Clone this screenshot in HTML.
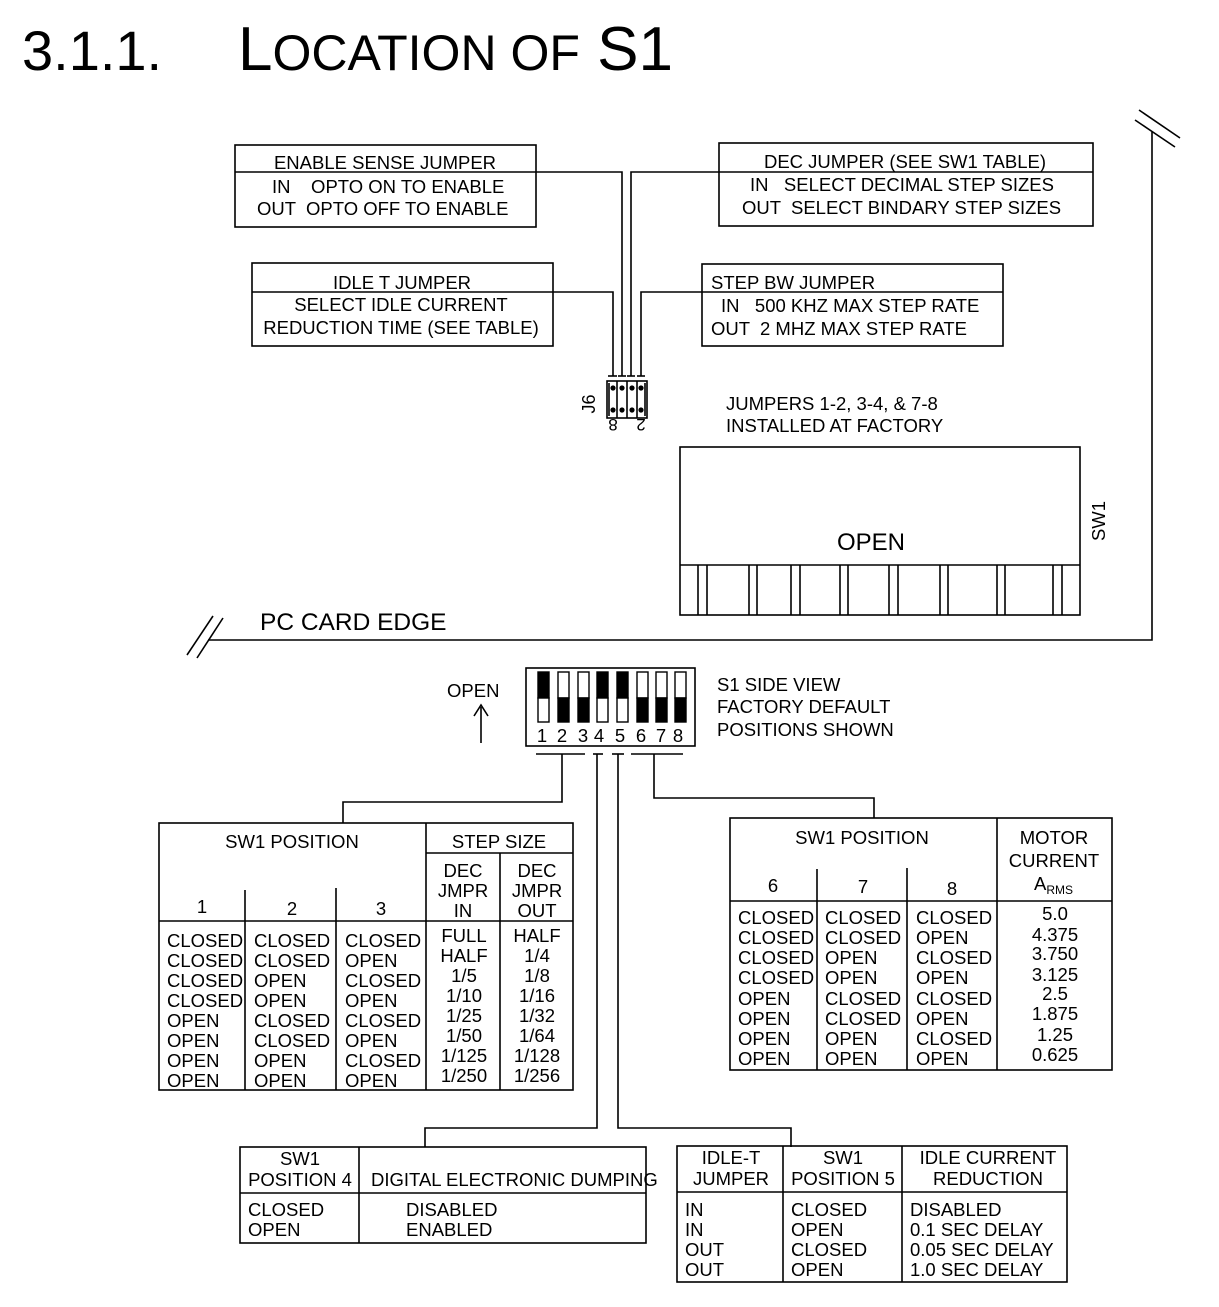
<!DOCTYPE html>
<html><head><meta charset="utf-8"><style>
html,body{margin:0;padding:0;background:#fff}
svg{display:block}
text{font-family:"Liberation Sans",Arial,sans-serif;font-size:18.5px;fill:#000}
.m{text-anchor:middle}
</style></head><body>
<svg width="1219" height="1307" viewBox="0 0 1219 1307" xmlns="http://www.w3.org/2000/svg">
<g fill="none" stroke="#000" stroke-width="1.6">
<rect x="235" y="145" width="301" height="82"/><line x1="235" y1="172" x2="536" y2="172"/>
<rect x="719" y="143" width="374" height="83"/><line x1="719" y1="172" x2="1093" y2="172"/>
<rect x="252" y="263" width="301" height="83"/><line x1="252" y1="292" x2="553" y2="292"/>
<rect x="702" y="264" width="301" height="82"/><line x1="702" y1="292" x2="1003" y2="292"/>
<polyline points="553,292 613,292 613,376"/>
<polyline points="536,172 622,172 622,376"/>
<polyline points="719,172 631,172 631,376"/>
<polyline points="702,292 641,292 641,376"/>
<line x1="608" y1="376" x2="617" y2="376"/><line x1="618" y1="376" x2="626" y2="376"/>
<line x1="627" y1="376" x2="635" y2="376"/><line x1="637" y1="376" x2="645" y2="376"/>
<rect x="607" y="381" width="40" height="37"/>
<line x1="609" y1="383" x2="609" y2="416"/>
<line x1="617" y1="381" x2="617" y2="418"/><line x1="627" y1="381" x2="627" y2="418"/><line x1="637" y1="381" x2="637" y2="418"/>
<line x1="645" y1="383" x2="645" y2="416"/>
<rect x="680" y="447" width="400" height="168"/>
<line x1="680" y1="565" x2="1080" y2="565"/>
<g>
<line x1="698" y1="565" x2="698" y2="615"/><line x1="707" y1="565" x2="707" y2="615"/>
<line x1="749" y1="565" x2="749" y2="615"/><line x1="757" y1="565" x2="757" y2="615"/>
<line x1="791" y1="565" x2="791" y2="615"/><line x1="800" y1="565" x2="800" y2="615"/>
<line x1="840" y1="565" x2="840" y2="615"/><line x1="848" y1="565" x2="848" y2="615"/>
<line x1="889" y1="565" x2="889" y2="615"/><line x1="898" y1="565" x2="898" y2="615"/>
<line x1="940" y1="565" x2="940" y2="615"/><line x1="948" y1="565" x2="948" y2="615"/>
<line x1="997" y1="565" x2="997" y2="615"/><line x1="1005" y1="565" x2="1005" y2="615"/>
<line x1="1053" y1="565" x2="1053" y2="615"/><line x1="1062" y1="565" x2="1062" y2="615"/>
</g>
<polyline points="208,640 1152,640 1152,132"/>
<line x1="1139" y1="110" x2="1180" y2="138"/><line x1="1135" y1="120" x2="1175" y2="147"/>
<line x1="213" y1="616" x2="187" y2="655"/><line x1="223" y1="618" x2="197" y2="658"/>
<line x1="481" y1="707" x2="481" y2="743"/>
<polyline points="474,716 481,705 488,716"/>
<rect x="526" y="668" width="169" height="78"/>
<line x1="536" y1="754" x2="585" y2="754"/><line x1="593" y1="754" x2="603" y2="754"/>
<line x1="612" y1="754" x2="624" y2="754"/><line x1="631" y1="754" x2="683" y2="754"/>
<polyline points="562,754 562,802 343,802 343,823"/>
<polyline points="597,754 597,1128 425,1128 425,1147"/>
<polyline points="618,754 618,1128 791,1128 791,1147"/>
<polyline points="654,754 654,798 874,798 874,818"/>
<rect x="159" y="823" width="414" height="267"/>
<line x1="426" y1="823" x2="426" y2="1090"/>
<line x1="426" y1="853" x2="573" y2="853"/>
<line x1="500" y1="853" x2="500" y2="1090"/>
<line x1="159" y1="921" x2="573" y2="921"/>
<line x1="245" y1="890" x2="245" y2="1090"/><line x1="336" y1="888" x2="336" y2="1090"/>
<rect x="730" y="818" width="382" height="252"/>
<line x1="997" y1="818" x2="997" y2="1070"/>
<line x1="730" y1="901" x2="1112" y2="901"/>
<line x1="817" y1="869" x2="817" y2="1070"/><line x1="907" y1="868" x2="907" y2="1070"/>
<rect x="240" y="1147" width="406" height="96"/>
<line x1="359" y1="1147" x2="359" y2="1243"/><line x1="240" y1="1193" x2="646" y2="1193"/>
<rect x="677" y="1146" width="390" height="136"/>
<line x1="783" y1="1146" x2="783" y2="1282"/><line x1="902" y1="1146" x2="902" y2="1282"/>
<line x1="677" y1="1192" x2="1067" y2="1192"/>
</g>
<g stroke="#000" stroke-width="1.4">
<rect x="538" y="672" width="11" height="26" fill="#000"/><rect x="538" y="698" width="11" height="24" fill="#fff"/>
<rect x="558" y="672" width="11" height="26" fill="#fff"/><rect x="558" y="698" width="11" height="24" fill="#000"/>
<rect x="578" y="672" width="11" height="26" fill="#fff"/><rect x="578" y="698" width="11" height="24" fill="#000"/>
<rect x="597" y="672" width="11" height="26" fill="#000"/><rect x="597" y="698" width="11" height="24" fill="#fff"/>
<rect x="617" y="672" width="11" height="26" fill="#000"/><rect x="617" y="698" width="11" height="24" fill="#fff"/>
<rect x="637" y="672" width="11" height="26" fill="#fff"/><rect x="637" y="698" width="11" height="24" fill="#000"/>
<rect x="656" y="672" width="11" height="26" fill="#fff"/><rect x="656" y="698" width="11" height="24" fill="#000"/>
<rect x="675" y="672" width="11" height="26" fill="#fff"/><rect x="675" y="698" width="11" height="24" fill="#000"/>
</g>
<g fill="#000">
<circle cx="613" cy="388" r="2.6"/><circle cx="622" cy="388" r="2.6"/><circle cx="632" cy="388" r="2.6"/><circle cx="641" cy="388" r="2.6"/>
<circle cx="613" cy="410" r="2.6"/><circle cx="622" cy="410" r="2.6"/><circle cx="632" cy="410" r="2.6"/><circle cx="641" cy="410" r="2.6"/>
</g>
<text x="22" y="70" style="font-size:56px">3.1.1.</text>
<text x="238" y="70" style="font-size:62px">L<tspan style="font-size:50px">OCATION OF</tspan> S1</text>
<text class="m" x="385" y="169">ENABLE SENSE JUMPER</text>
<text x="272" y="193">IN &#160;&#160;&#160;OPTO ON TO ENABLE</text>
<text x="257" y="215">OUT &#160;OPTO OFF TO ENABLE</text>
<text class="m" x="905" y="168">DEC JUMPER (SEE SW1 TABLE)</text>
<text x="750" y="191">IN &#160;&#160;SELECT DECIMAL STEP SIZES</text>
<text x="742" y="214">OUT &#160;SELECT BINDARY STEP SIZES</text>
<text class="m" x="402" y="289">IDLE T JUMPER</text>
<text class="m" x="401" y="311">SELECT IDLE CURRENT</text>
<text class="m" x="401" y="334">REDUCTION TIME (SEE TABLE)</text>
<text x="711" y="289">STEP BW JUMPER</text>
<text x="721" y="312">IN &#160;&#160;500 KHZ MAX STEP RATE</text>
<text x="711" y="335">OUT &#160;2 MHZ MAX STEP RATE</text>
<text x="595" y="404" transform="rotate(-90 595 404)" class="m" style="font-size:18px">J6</text>
<text x="613" y="431" transform="rotate(180 613 425)" class="m" style="font-size:17px">8</text>
<text x="641" y="431" transform="rotate(180 641 425)" class="m" style="font-size:17px">2</text>
<text x="726" y="410">JUMPERS 1-2, 3-4, &amp; 7-8</text>
<text x="726" y="432">INSTALLED AT FACTORY</text>
<text class="m" x="871" y="550" style="font-size:24px">OPEN</text>
<text x="1105" y="521" transform="rotate(-90 1105 521)" class="m">SW1</text>
<text x="260" y="630" style="font-size:24.5px">PC CARD EDGE</text>
<text x="447" y="697">OPEN</text>
<text class="m" x="542" y="742">1</text><text class="m" x="562" y="742">2</text><text class="m" x="583" y="742">3</text><text class="m" x="599" y="742">4</text>
<text class="m" x="620" y="742">5</text><text class="m" x="641" y="742">6</text><text class="m" x="661" y="742">7</text><text class="m" x="678" y="742">8</text>
<text x="717" y="691">S1 SIDE VIEW</text>
<text x="717" y="713">FACTORY DEFAULT</text>
<text x="717" y="736">POSITIONS SHOWN</text>
<text class="m" x="292" y="848">SW1 POSITION</text>
<text class="m" x="499" y="848">STEP SIZE</text>
<text class="m" x="463" y="877">DEC</text><text class="m" x="463" y="897">JMPR</text><text class="m" x="463" y="917">IN</text>
<text class="m" x="537" y="877">DEC</text><text class="m" x="537" y="897">JMPR</text><text class="m" x="537" y="917">OUT</text>
<text class="m" x="202" y="913">1</text><text class="m" x="292" y="915">2</text><text class="m" x="381" y="915">3</text>
<text x="167" y="947">CLOSED</text><text x="167" y="967">CLOSED</text><text x="167" y="987">CLOSED</text><text x="167" y="1007">CLOSED</text>
<text x="167" y="1027">OPEN</text><text x="167" y="1047">OPEN</text><text x="167" y="1067">OPEN</text><text x="167" y="1087">OPEN</text>
<text x="254" y="947">CLOSED</text><text x="254" y="967">CLOSED</text><text x="254" y="987">OPEN</text><text x="254" y="1007">OPEN</text>
<text x="254" y="1027">CLOSED</text><text x="254" y="1047">CLOSED</text><text x="254" y="1067">OPEN</text><text x="254" y="1087">OPEN</text>
<text x="345" y="947">CLOSED</text><text x="345" y="967">OPEN</text><text x="345" y="987">CLOSED</text><text x="345" y="1007">OPEN</text>
<text x="345" y="1027">CLOSED</text><text x="345" y="1047">OPEN</text><text x="345" y="1067">CLOSED</text><text x="345" y="1087">OPEN</text>
<text class="m" x="464" y="942">FULL</text><text class="m" x="464" y="962">HALF</text><text class="m" x="464" y="982">1/5</text><text class="m" x="464" y="1002">1/10</text>
<text class="m" x="464" y="1022">1/25</text><text class="m" x="464" y="1042">1/50</text><text class="m" x="464" y="1062">1/125</text><text class="m" x="464" y="1082">1/250</text>
<text class="m" x="537" y="942">HALF</text><text class="m" x="537" y="962">1/4</text><text class="m" x="537" y="982">1/8</text><text class="m" x="537" y="1002">1/16</text>
<text class="m" x="537" y="1022">1/32</text><text class="m" x="537" y="1042">1/64</text><text class="m" x="537" y="1062">1/128</text><text class="m" x="537" y="1082">1/256</text>
<text class="m" x="862" y="844">SW1 POSITION</text>
<text class="m" x="1054" y="844">MOTOR</text><text class="m" x="1054" y="867">CURRENT</text>
<text x="1034" y="890">A<tspan style="font-size:12px" dy="4">RMS</tspan></text>
<text class="m" x="773" y="892">6</text><text class="m" x="863" y="893">7</text><text class="m" x="952" y="895">8</text>
<text x="738" y="924">CLOSED</text><text x="738" y="944">CLOSED</text><text x="738" y="964">CLOSED</text><text x="738" y="984">CLOSED</text>
<text x="738" y="1005">OPEN</text><text x="738" y="1025">OPEN</text><text x="738" y="1045">OPEN</text><text x="738" y="1065">OPEN</text>
<text x="825" y="924">CLOSED</text><text x="825" y="944">CLOSED</text><text x="825" y="964">OPEN</text><text x="825" y="984">OPEN</text>
<text x="825" y="1005">CLOSED</text><text x="825" y="1025">CLOSED</text><text x="825" y="1045">OPEN</text><text x="825" y="1065">OPEN</text>
<text x="916" y="924">CLOSED</text><text x="916" y="944">OPEN</text><text x="916" y="964">CLOSED</text><text x="916" y="984">OPEN</text>
<text x="916" y="1005">CLOSED</text><text x="916" y="1025">OPEN</text><text x="916" y="1045">CLOSED</text><text x="916" y="1065">OPEN</text>
<text class="m" x="1055" y="920">5.0</text><text class="m" x="1055" y="941">4.375</text><text class="m" x="1055" y="960">3.750</text><text class="m" x="1055" y="981">3.125</text>
<text class="m" x="1055" y="1000">2.5</text><text class="m" x="1055" y="1020">1.875</text><text class="m" x="1055" y="1041">1.25</text><text class="m" x="1055" y="1061">0.625</text>
<text class="m" x="300" y="1165">SW1</text><text class="m" x="300" y="1186">POSITION 4</text>
<text x="371" y="1186">DIGITAL ELECTRONIC DUMPING</text>
<text x="248" y="1216">CLOSED</text><text x="248" y="1236">OPEN</text>
<text x="406" y="1216">DISABLED</text><text x="406" y="1236">ENABLED</text>
<text class="m" x="731" y="1164">IDLE-T</text><text class="m" x="731" y="1185">JUMPER</text>
<text class="m" x="843" y="1164">SW1</text><text class="m" x="843" y="1185">POSITION 5</text>
<text class="m" x="988" y="1164">IDLE CURRENT</text><text class="m" x="988" y="1185">REDUCTION</text>
<text x="685" y="1216">IN</text><text x="685" y="1236">IN</text><text x="685" y="1256">OUT</text><text x="685" y="1276">OUT</text>
<text x="791" y="1216">CLOSED</text><text x="791" y="1236">OPEN</text><text x="791" y="1256">CLOSED</text><text x="791" y="1276">OPEN</text>
<text x="910" y="1216">DISABLED</text><text x="910" y="1236">0.1 SEC DELAY</text><text x="910" y="1256">0.05 SEC DELAY</text><text x="910" y="1276">1.0 SEC DELAY</text>
</svg>
</body></html>
